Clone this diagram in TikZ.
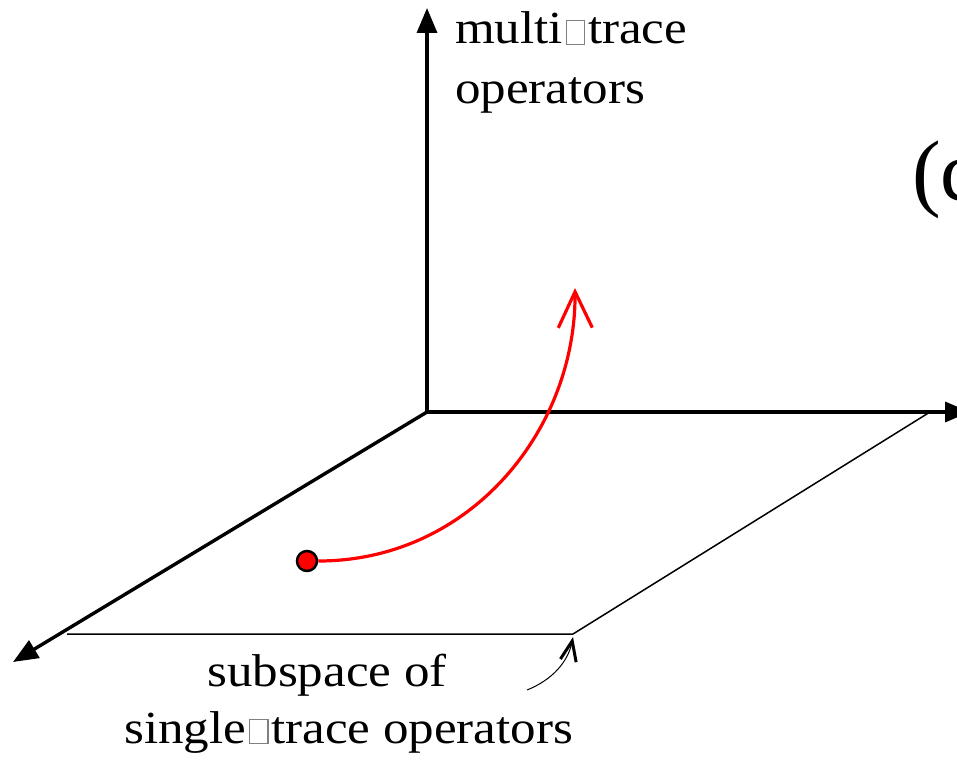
\documentclass[tikz,border=0pt]{standalone}
\usepackage{fontspec}
\setmainfont{Liberation Serif}
\usetikzlibrary{arrows.meta}
\newcommand{\ndbox}{\kern0.05em\textcolor{gray}{\fboxsep0pt\fboxrule0.025em\fbox{\rule{0pt}{0.5em}\rule{0.34em}{0pt}}}\kern0.05em}
\begin{document}
\begin{tikzpicture}[x=1pt,y=-1pt,
  axis/.style={line width=3.4pt,-{Triangle[length=25pt,width=20pt]}},
  thinline/.style={line width=1.5pt},
  lbl/.style={anchor=base west,inner sep=0pt,font=\fontsize{46}{56}\selectfont},
  redcurve/.style={red,line width=3.2pt,-{Straight Barb[length=36pt,width=34pt]}},
  pointer/.style={line width=1pt,-{Straight Barb[length=20pt,width=16pt,line width=3pt]}}]
\useasboundingbox (0,0) rectangle (957,760);
\clip (0,0) rectangle (957,760);
\coordinate (O) at (427,412);
\coordinate (zt) at (427,8);
\coordinate (xt) at (970,412);
\coordinate (yt) at (13,662);
\coordinate (pr) at (930,412);
\coordinate (pbr) at (573,634);
\coordinate (pbl) at (67,634);
\coordinate (tipR) at (575,288);
\coordinate (ps) at (527,690);
\coordinate (pt) at (573,637);
% plane
\draw[thinline] (O) -- (pr) -- (pbr) -- (pbl);
% axes
\draw[axis] (O) -- (zt);
\draw[axis] (O) -- (xt);
\draw[axis] (O) -- (yt);
% flow
\node[circle,fill=red,draw=black,line width=2.5pt,minimum size=20pt,inner sep=0pt] (dot) at (307,561) {};
\draw[redcurve] (dot.east) .. controls (470,561) and (576,430) .. (tipR);
% pointer
\draw[pointer] (ps) .. controls (552,680) and (568,662) .. (pt);
% labels
\node[lbl] (multi) at (455,44) {\scalebox{1.11}[1]{multi\ndbox trace}};
\node[lbl] (ops) at (455,103) {\scalebox{1.11}[1]{operators}};
\node[lbl] (sub) at (207,686) {\scalebox{1.11}[1]{subspace of}};
\node[lbl] (single) at (124,743) {\scalebox{1.11}[1]{single\ndbox trace operators}};
\node[anchor=base west,inner sep=0pt,font=\fontsize{86}{100}\selectfont] (tag) at (912,200) {(c)};
\end{tikzpicture}
\end{document}
